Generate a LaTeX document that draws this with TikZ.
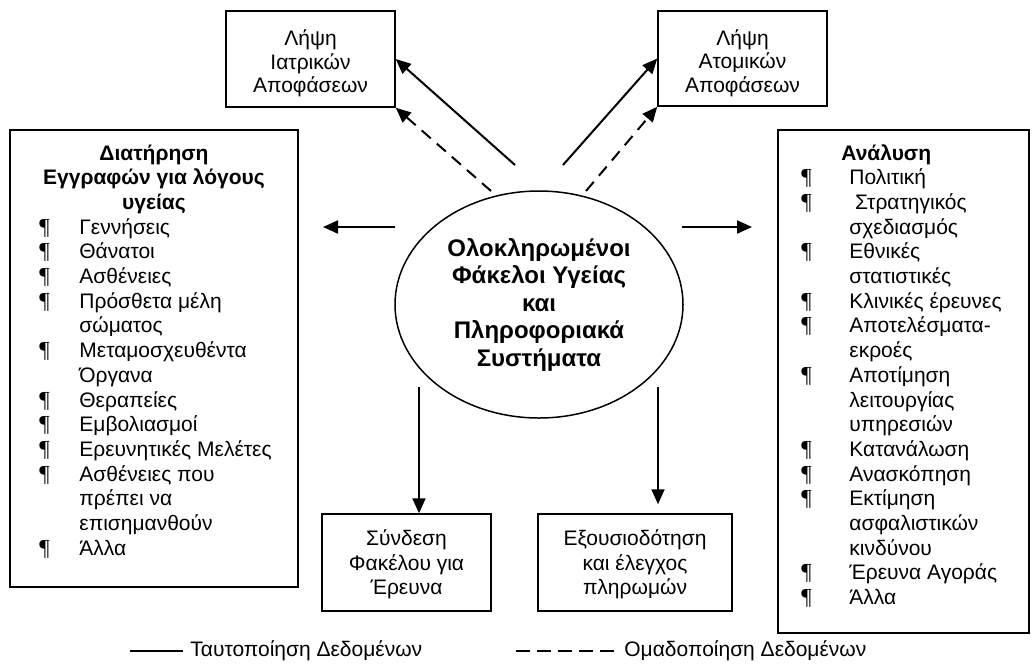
\documentclass[tikz,border=0pt]{standalone}
\usepackage{fontspec}
\setmainfont{Liberation Sans}
\newfontfamily\pilfont{Liberation Serif}
\usetikzlibrary{arrows.meta, positioning, calc, shapes.geometric}
\newcommand{\hdfont}{\fontsize{10.5}{12.35}\selectfont}
\newcommand{\pil}{{\pilfont\fontsize{11.5}{12.35}\selectfont ¶}}

\begin{document}
\begin{tikzpicture}[x=0.5pt, y=-0.5pt,
    every node/.style={font=\hdfont},
    hdbox/.style={draw, line width=0.75pt, inner sep=0pt, align=center},
    hdtext/.style={inner sep=0pt, align=center, font=\fontsize{10.5}{11.75}\selectfont},
    hdhead/.style={font=\hdfont\bfseries, inner sep=0pt},
    hdlist/.style={inner sep=0pt, anchor=base west},
    hdcore/.style={draw, line width=0.75pt, ellipse, inner sep=0pt,
                   minimum width=144pt, minimum height=113.5pt, align=center,
                   font=\fontsize{12}{13.75}\selectfont\bfseries},
    hdflow/.style={-{Triangle[length=7.5pt, width=6.5pt]}, line width=1pt},
    hdgroup/.style={hdflow, dash pattern=on 6pt off 4pt},
    hdkey/.style={line width=0.75pt}
  ]
    \useasboundingbox (0,0) rectangle (1032,670);

    \node[hdbox, minimum width=84.5pt, minimum height=48pt]   (med)  at (310.5,59)   {};
    \node[hdbox, minimum width=84.5pt, minimum height=47.5pt] (ind)  at (742.5,58.5) {};
    \node[hdtext] (medtext) at ([yshift=-2.25pt]med.center) {Λήψη\\Ιατρικών\\Αποφάσεων};
    \node[hdtext] (indtext) at ([yshift=-2.25pt]ind.center) {Λήψη\\Ατομικών\\Αποφάσεων};
    \node[hdcore] (core) at (539,304.5) {Ολοκληρωμένοι\\Φάκελοι Υγείας\\και\\Πληροφοριακά\\Συστήματα};
    \node[hdbox, minimum width=144pt, minimum height=228.5pt]  (rec)  at (154,358.5)   {};
    \node[hdbox, minimum width=125.5pt, minimum height=251.5pt] (ana) at (903.5,381.5) {};
    \node[hdbox, minimum width=84.5pt, minimum height=48.5pt] (link) at (406.5,562.5) {};
    \node[hdbox, minimum width=97pt, minimum height=48.5pt]   (auth) at (635,562.5)   {};
    \node[hdtext, font=\hdfont] (linktext) at ([yshift=-1pt]link.center) {Σύνδεση\\Φακέλου για\\Έρευνα};
    \node[hdtext, font=\hdfont] (authtext) at ([yshift=-1pt]auth.center) {Εξουσιοδότηση\\και έλεγχος\\πληρωμών};

    % contents of the two tall boxes, one baseline every 12.35pt
    \node[hdhead, anchor=base] (rechead) at (154,160)
      {\begin{tabular}[t]{@{}c@{}}Διατήρηση\\Εγγραφών για λόγους\\υγείας\end{tabular}};
    \node[hdlist] (reclist) at (39,234.1)
      {\begin{tabular}[t]{@{}p{20pt}@{}l@{}}
        \pil & Γεννήσεις\\
        \pil & Θάνατοι\\
        \pil & Ασθένειες\\
        \pil & Πρόσθετα μέλη\\
             & σώματος\\
        \pil & Μεταμοσχευθέντα\\
             & Όργανα\\
        \pil & Θεραπείες\\
        \pil & Εμβολιασμοί\\
        \pil & Ερευνητικές Μελέτες\\
        \pil & Ασθένειες που\\
             & πρέπει να\\
             & επισημανθούν\\
        \pil & Άλλα
      \end{tabular}};

    \node[hdhead, anchor=base west] (anahead) at (841,160) {Ανάλυση};
    \node[hdlist] (analist) at (801,184.7)
      {\begin{tabular}[t]{@{}p{24pt}@{}l@{}}
        \pil & Πολιτική\\
        \pil & ~Στρατηγικός\\
             & σχεδιασμός\\
        \pil & Εθνικές\\
             & στατιστικές\\
        \pil & Κλινικές έρευνες\\
        \pil & Αποτελέσματα-\\
             & εκροές\\
        \pil & Αποτίμηση\\
             & λειτουργίας\\
             & υπηρεσιών\\
        \pil & Κατανάλωση\\
        \pil & Ανασκόπηση\\
        \pil & Εκτίμηση\\
             & ασφαλιστικών\\
             & κινδύνου\\
        \pil & Έρευνα Αγοράς\\
        \pil & Άλλα
      \end{tabular}};

    % free ends of the connectors, just outside the ellipse
    \coordinate (medsolid) at (515,165);
    \coordinate (medgroup) at (491,191);
    \coordinate (indsolid) at (563,165);
    \coordinate (indgroup) at (586,191);
    \coordinate (recfrom)  at (395,227);
    \coordinate (recto)    at (323,227);
    \coordinate (anafrom)  at (682,227);
    \coordinate (anato)    at (752,227);
    \coordinate (linkfrom) at (419,387);
    \coordinate (authfrom) at (658,387);

    \draw[hdflow]  (medsolid) -- (med.east);
    \draw[hdgroup] (medgroup) -- (med.south east);
    \draw[hdflow]  (indsolid) -- (ind.west);
    \draw[hdgroup] (indgroup) -- (ind.south west);
    \draw[hdflow]  (recfrom) -- (recto);
    \draw[hdflow]  (anafrom) -- (anato);
    \draw[hdflow]  (linkfrom) -- (linkfrom |- link.north);
    \draw[hdflow, shorten >=4.5pt] (authfrom) -- (authfrom |- auth.north);

    % legend
    \node[anchor=west, inner sep=0pt] (legid)  at (190,651) {Ταυτοποίηση Δεδομένων};
    \node[anchor=west, inner sep=0pt] (legagg) at (624,651) {Ομαδοποίηση Δεδομένων};
    \draw[hdkey] ([xshift=-3.5pt]legid.west) -- ++(-53,0);
    \draw[hdkey, dash pattern=on 7pt off 3.5pt] ([xshift=-5pt]legagg.west) -- ++(-101,0);
  \end{tikzpicture}
\end{document}
